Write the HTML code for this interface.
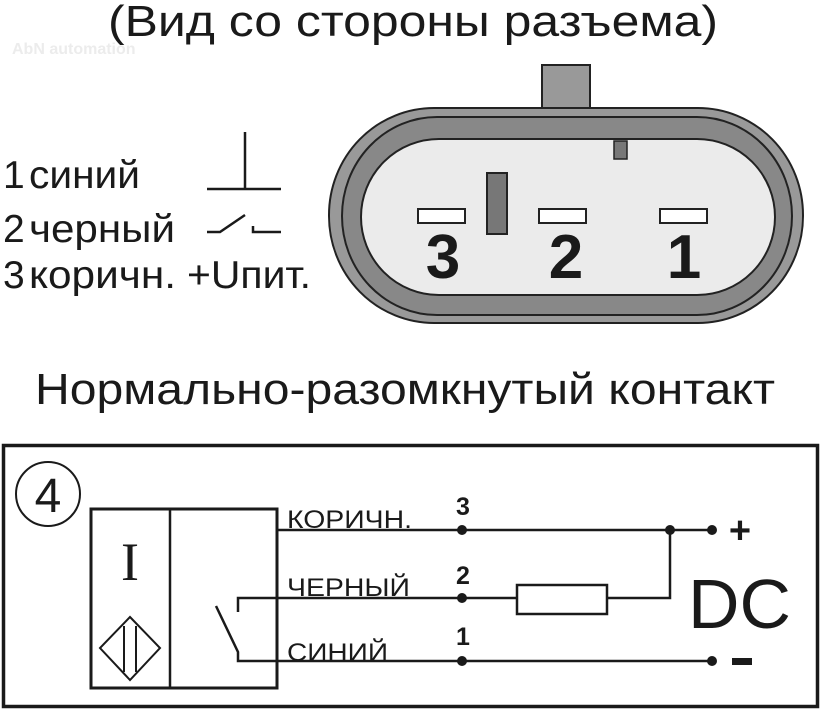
<!DOCTYPE html>
<html><head><meta charset="utf-8"><style>
html,body{margin:0;padding:0;background:#fff;}
svg{display:block;}
text{font-family:"Liberation Sans",sans-serif;fill:#1a1a1a;}
</style></head><body>
<svg width="821" height="709" viewBox="0 0 821 709" xmlns="http://www.w3.org/2000/svg">
<text x="108" y="36" font-size="44" textLength="610" lengthAdjust="spacingAndGlyphs">(Вид со стороны разъема)</text>
<text x="12" y="54" font-size="16" style="fill:#ececec" font-weight="bold">AbN automation</text>

<!-- left legend -->
<text x="3" y="188" font-size="39">1</text><text x="29" y="188" font-size="39" textLength="111" lengthAdjust="spacingAndGlyphs">синий</text>
<text x="3" y="242" font-size="39">2</text><text x="29" y="242" font-size="39" textLength="146" lengthAdjust="spacingAndGlyphs">черный</text>
<text x="3" y="288" font-size="39">3</text><text x="29" y="288" font-size="39" textLength="147" lengthAdjust="spacingAndGlyphs">коричн.</text>
<text x="187" y="288" font-size="39" textLength="124" lengthAdjust="spacingAndGlyphs">+Uпит.</text>
<g stroke="#1a1a1a" stroke-width="2.5" fill="none">
<path d="M245 132V189M207 189H281"/>
<path d="M207 232H220L245 215M253 226V232H281"/>
</g>

<!-- connector -->
<rect x="542" y="65" width="48" height="45" fill="#999" stroke="#222" stroke-width="2"/>
<rect x="329" y="108" width="474" height="215" rx="105" ry="107" fill="#999" stroke="#222" stroke-width="2"/>
<rect x="342" y="117" width="450" height="198" rx="95" ry="99" fill="#888" stroke="#222" stroke-width="2"/>
<rect x="361" y="139" width="414" height="156" rx="78" ry="78" fill="#ebebeb" stroke="#222" stroke-width="2"/>
<rect x="614" y="141" width="13" height="18" fill="#777" stroke="#222" stroke-width="1.5"/>
<rect x="487" y="173" width="20" height="61" fill="#777" stroke="#222" stroke-width="2"/>
<g fill="#fff" stroke="#222" stroke-width="2">
<rect x="418" y="209" width="47" height="14"/><rect x="539" y="209" width="47" height="14"/><rect x="660" y="209" width="47" height="14"/>
</g>
<g font-size="62" font-weight="bold" text-anchor="middle">
<text x="443" y="278">3</text><text x="566" y="278">2</text><text x="684" y="278">1</text>
</g>

<text x="35" y="404" font-size="44" textLength="740" lengthAdjust="spacingAndGlyphs">Нормально-разомкнутый контакт</text>

<!-- schematic -->
<rect x="3.5" y="445.5" width="814" height="261" fill="none" stroke="#1a1a1a" stroke-width="3.5"/>
<circle cx="48" cy="494" r="32" fill="none" stroke="#1a1a1a" stroke-width="2"/>
<text x="48" y="512" font-size="48" text-anchor="middle">4</text>
<rect x="91" y="509" width="186" height="179" fill="none" stroke="#1a1a1a" stroke-width="3"/>
<line x1="170" y1="509" x2="170" y2="688" stroke="#1a1a1a" stroke-width="2.5"/>
<text x="130" y="580" font-size="54" text-anchor="middle" style="font-family:'Liberation Serif',serif">I</text>
<g stroke="#1a1a1a" stroke-width="2" fill="none">
<path d="M130 617L160 648L130 680L100 648Z"/>
<path d="M124 626V672M136 626V672"/>
</g>
<g stroke="#1a1a1a" stroke-width="2.5" fill="none">
<path d="M277 530H712"/>
<path d="M238 612V598H517"/>
<path d="M216 606L238 652V661H712"/>
<rect x="517" y="585" width="90" height="29"/>
<path d="M607 598H670V530"/>
</g>
<g fill="#1a1a1a">
<circle cx="462" cy="530" r="5"/><circle cx="462" cy="598" r="5"/><circle cx="462" cy="661" r="5"/>
<circle cx="670" cy="530" r="5"/><circle cx="712" cy="530" r="5"/><circle cx="712" cy="661" r="5"/>
</g>
<g font-size="25">
<text x="287" y="528" textLength="125" lengthAdjust="spacingAndGlyphs">КОРИЧН.</text>
<text x="287" y="596" textLength="123" lengthAdjust="spacingAndGlyphs">ЧЕРНЫЙ</text>
<text x="287" y="661" textLength="101" lengthAdjust="spacingAndGlyphs">СИНИЙ</text>
</g>
<g font-size="25" font-weight="bold" text-anchor="middle">
<text x="463" y="515">3</text><text x="463" y="584">2</text><text x="463" y="645">1</text>
</g>
<text x="740" y="543" font-size="38" font-weight="bold" text-anchor="middle">+</text>
<rect x="732" y="658" width="20" height="7" fill="#1a1a1a"/>
<text x="688" y="628" font-size="70" textLength="103" lengthAdjust="spacingAndGlyphs">DC</text>
</svg>
</body></html>
